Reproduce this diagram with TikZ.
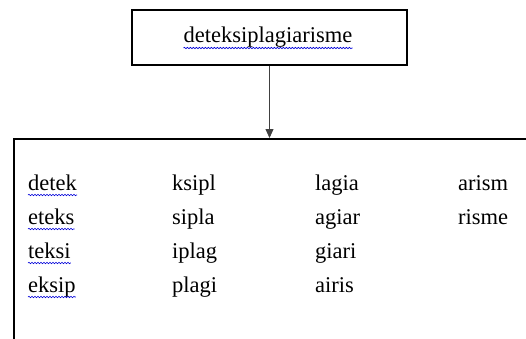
\documentclass[tikz,border=0pt]{standalone}
\usepackage{fontspec}
\setmainfont{Liberation Serif}
\usetikzlibrary{arrows.meta,decorations.pathmorphing}
\begin{document}
\begin{tikzpicture}[x=1pt,y=1pt,
  box/.style={draw=black,line width=2pt,inner sep=0pt},
  word/.style={anchor=base west,inner sep=0pt,font=\fontsize{22.5}{27}\selectfont},
  squig/.style={draw=blue!85!black,line width=0.6pt,decorate,decoration={snake,amplitude=0.7pt,segment length=3pt}},
  conn/.style={line width=0.8pt,draw=black!75,-{Triangle[length=9pt,width=8pt]}}]
\useasboundingbox (0,0) rectangle (526,338);
\clip (0,0) rectangle (526,338);
\node[box,minimum width=275pt,minimum height=55pt,anchor=north west] (top) at (131,329) {};
\node[word,anchor=base] (title) at (268,295) {deteksiplagiarisme};
\node[box,minimum width=560pt,minimum height=230pt,anchor=north west] (big) at (13,200) {};
\draw[conn] (top.south) -- (big.north -| top.south);
% column 1
\node[word] (w11) at (28,148) {detek};
\node[word] (w12) at (28,114) {eteks};
\node[word] (w13) at (28,80) {teksi};
\node[word] (w14) at (28,46) {eksip};
% column 2
\node[word] (w21) at (172,148) {ksipl};
\node[word] (w22) at (172,114) {sipla};
\node[word] (w23) at (172,80) {iplag};
\node[word] (w24) at (172,46) {plagi};
% column 3
\node[word] (w31) at (315,148) {lagia};
\node[word] (w32) at (315,114) {agiar};
\node[word] (w33) at (315,80) {giari};
\node[word] (w34) at (315,46) {airis};
% column 4
\node[word] (w41) at (458,148) {arism};
\node[word] (w42) at (458,114) {risme};
% spell-check squiggles
\foreach \n in {title,w11,w12,w13,w14}{
  \draw[squig] ([yshift=-5pt]\n.base west) -- ([yshift=-5pt]\n.base east);
}
\end{tikzpicture}
\end{document}
